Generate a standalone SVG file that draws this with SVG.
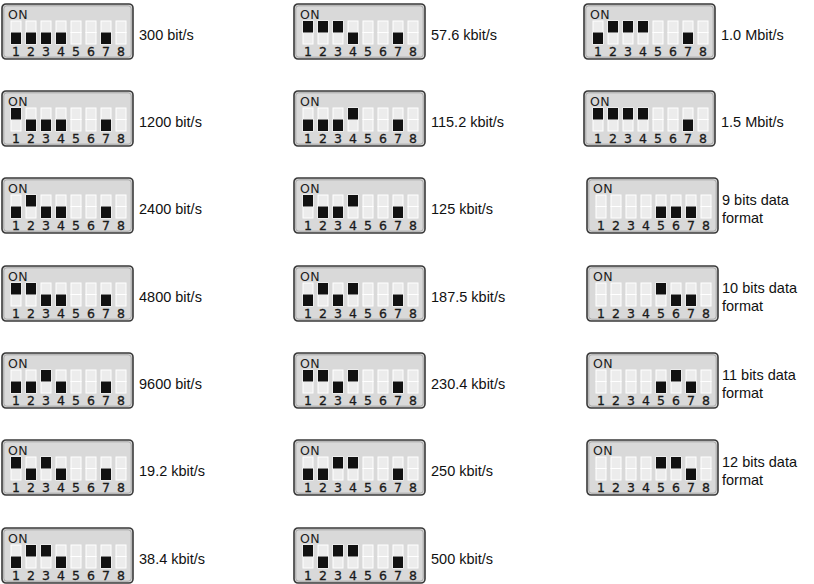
<svg xmlns="http://www.w3.org/2000/svg" xmlns:xlink="http://www.w3.org/1999/xlink" width="814" height="584" viewBox="0 0 814 584">
<style>
.box{fill:#d9d9d9;stroke:#3a3a3a;stroke-width:1.6}
.box2{fill:none;stroke:#9a9a9a;stroke-width:0.8}
.slot{fill:#ececec;stroke:#ffffff;stroke-width:1}
.on{fill:#111111}
.num{font-family:"DejaVu Sans",sans-serif;font-size:12.5px;fill:#1a1a1a;text-anchor:middle;stroke:#1a1a1a;stroke-width:0.3}
.onl{font-family:"DejaVu Sans",sans-serif;font-size:12.5px;fill:#222222;letter-spacing:0.3px}
.lbl{font-family:"Liberation Sans",Arial,sans-serif;font-size:14.5px;fill:#111111}
</style>
<defs>
<g id="dip">
<rect class="box" x="0" y="0" width="131" height="55" rx="4"/>
<rect class="box2" x="1.8" y="1.8" width="127.4" height="51.4" rx="3"/>
<text class="onl" x="6" y="14.5">ON</text>
<rect class="slot" x="9" y="17" width="10" height="11.5"/><rect class="slot" x="9" y="28.5" width="10" height="11.5"/>
<rect class="slot" x="24" y="17" width="10" height="11.5"/><rect class="slot" x="24" y="28.5" width="10" height="11.5"/>
<rect class="slot" x="39" y="17" width="10" height="11.5"/><rect class="slot" x="39" y="28.5" width="10" height="11.5"/>
<rect class="slot" x="54" y="17" width="10" height="11.5"/><rect class="slot" x="54" y="28.5" width="10" height="11.5"/>
<rect class="slot" x="69" y="17" width="10" height="11.5"/><rect class="slot" x="69" y="28.5" width="10" height="11.5"/>
<rect class="slot" x="84" y="17" width="10" height="11.5"/><rect class="slot" x="84" y="28.5" width="10" height="11.5"/>
<rect class="slot" x="99" y="17" width="10" height="11.5"/><rect class="slot" x="99" y="28.5" width="10" height="11.5"/>
<rect class="slot" x="114" y="17" width="10" height="11.5"/><rect class="slot" x="114" y="28.5" width="10" height="11.5"/>
<text class="num" x="14" y="51.5">1</text><text class="num" x="29" y="51.5">2</text><text class="num" x="44" y="51.5">3</text><text class="num" x="59" y="51.5">4</text>
<text class="num" x="74" y="51.5">5</text><text class="num" x="89" y="51.5">6</text><text class="num" x="104" y="51.5">7</text><text class="num" x="119" y="51.5">8</text>
</g>
<rect id="t" class="on" width="10" height="11.5" y="17"/>
<rect id="b" class="on" width="10" height="11.5" y="28.5"/>
</defs>

<!-- column 1 -->
<g id="n300" transform="translate(2,4)"><use href="#dip"/><use href="#b" x="9"/><use href="#b" x="24"/><use href="#b" x="39"/><use href="#b" x="54"/><use href="#b" x="99"/><text class="lbl" x="137" y="36">300 bit/s</text></g>
<g id="n1200" transform="translate(2,91)"><use href="#dip"/><use href="#t" x="9"/><use href="#b" x="24"/><use href="#b" x="39"/><use href="#b" x="54"/><use href="#b" x="99"/><text class="lbl" x="137" y="36">1200 bit/s</text></g>
<g id="n2400" transform="translate(2,178)"><use href="#dip"/><use href="#b" x="9"/><use href="#t" x="24"/><use href="#b" x="39"/><use href="#b" x="54"/><use href="#b" x="99"/><text class="lbl" x="137" y="36">2400 bit/s</text></g>
<g id="n4800" transform="translate(2,266)"><use href="#dip"/><use href="#t" x="9"/><use href="#t" x="24"/><use href="#b" x="39"/><use href="#b" x="54"/><use href="#b" x="99"/><text class="lbl" x="137" y="36">4800 bit/s</text></g>
<g id="n9600" transform="translate(2,353)"><use href="#dip"/><use href="#b" x="9"/><use href="#b" x="24"/><use href="#t" x="39"/><use href="#b" x="54"/><use href="#b" x="99"/><text class="lbl" x="137" y="36">9600 bit/s</text></g>
<g id="n19200" transform="translate(2,440)"><use href="#dip"/><use href="#t" x="9"/><use href="#b" x="24"/><use href="#t" x="39"/><use href="#b" x="54"/><use href="#b" x="99"/><text class="lbl" x="137" y="36">19.2 kbit/s</text></g>
<g id="n38400" transform="translate(2,528)"><use href="#dip"/><use href="#b" x="9"/><use href="#t" x="24"/><use href="#t" x="39"/><use href="#b" x="54"/><use href="#b" x="99"/><text class="lbl" x="137" y="36">38.4 kbit/s</text></g>

<!-- column 2 -->
<g id="n57600" transform="translate(294,4)"><use href="#dip"/><use href="#t" x="9"/><use href="#t" x="24"/><use href="#t" x="39"/><use href="#b" x="54"/><use href="#b" x="99"/><text class="lbl" x="137" y="36">57.6 kbit/s</text></g>
<g id="n115200" transform="translate(294,91)"><use href="#dip"/><use href="#b" x="9"/><use href="#b" x="24"/><use href="#b" x="39"/><use href="#t" x="54"/><use href="#b" x="99"/><text class="lbl" x="137" y="36">115.2 kbit/s</text></g>
<g id="n125000" transform="translate(294,178)"><use href="#dip"/><use href="#t" x="9"/><use href="#b" x="24"/><use href="#b" x="39"/><use href="#t" x="54"/><use href="#b" x="99"/><text class="lbl" x="137" y="36">125 kbit/s</text></g>
<g id="n187500" transform="translate(294,266)"><use href="#dip"/><use href="#b" x="9"/><use href="#t" x="24"/><use href="#b" x="39"/><use href="#t" x="54"/><use href="#b" x="99"/><text class="lbl" x="137" y="36">187.5 kbit/s</text></g>
<g id="n230400" transform="translate(294,353)"><use href="#dip"/><use href="#t" x="9"/><use href="#t" x="24"/><use href="#b" x="39"/><use href="#t" x="54"/><use href="#b" x="99"/><text class="lbl" x="137" y="36">230.4 kbit/s</text></g>
<g id="n250000" transform="translate(294,440)"><use href="#dip"/><use href="#b" x="9"/><use href="#b" x="24"/><use href="#t" x="39"/><use href="#t" x="54"/><use href="#b" x="99"/><text class="lbl" x="137" y="36">250 kbit/s</text></g>
<g id="n500000" transform="translate(294,528)"><use href="#dip"/><use href="#t" x="9"/><use href="#b" x="24"/><use href="#t" x="39"/><use href="#t" x="54"/><use href="#b" x="99"/><text class="lbl" x="137" y="36">500 kbit/s</text></g>

<!-- column 3 -->
<g id="n1M" transform="translate(584,4)"><use href="#dip"/><use href="#b" x="9"/><use href="#t" x="24"/><use href="#t" x="39"/><use href="#t" x="54"/><use href="#b" x="99"/><text class="lbl" x="137" y="36">1.0 Mbit/s</text></g>
<g id="n1M5" transform="translate(584,91)"><use href="#dip"/><use href="#t" x="9"/><use href="#t" x="24"/><use href="#t" x="39"/><use href="#t" x="54"/><use href="#b" x="99"/><text class="lbl" x="137" y="36">1.5 Mbit/s</text></g>
<g id="d9" transform="translate(587,178)"><use href="#dip"/><use href="#b" x="69"/><use href="#b" x="84"/><use href="#b" x="99"/><text class="lbl" x="135" y="27">9 bits data</text><text class="lbl" x="135" y="45">format</text></g>
<g id="d10" transform="translate(587,266)"><use href="#dip"/><use href="#t" x="69"/><use href="#b" x="84"/><use href="#b" x="99"/><text class="lbl" x="135" y="27">10 bits data</text><text class="lbl" x="135" y="45">format</text></g>
<g id="d11" transform="translate(587,353)"><use href="#dip"/><use href="#b" x="69"/><use href="#t" x="84"/><use href="#b" x="99"/><text class="lbl" x="135" y="27">11 bits data</text><text class="lbl" x="135" y="45">format</text></g>
<g id="d12" transform="translate(587,440)"><use href="#dip"/><use href="#t" x="69"/><use href="#t" x="84"/><use href="#b" x="99"/><text class="lbl" x="135" y="27">12 bits data</text><text class="lbl" x="135" y="45">format</text></g>

<g id="connectors"/>
</svg>
